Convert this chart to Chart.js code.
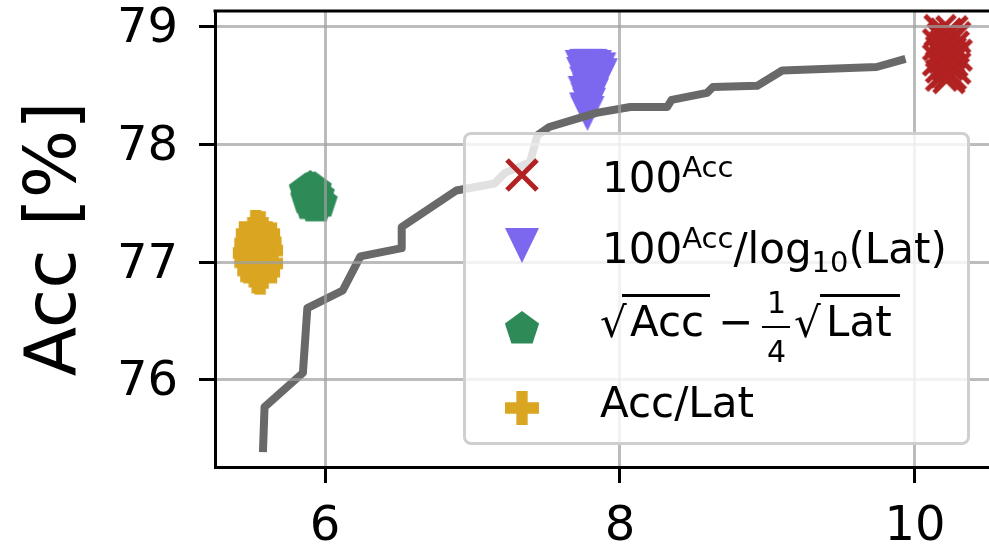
<!DOCTYPE html>
<html>
<head>
<meta charset="utf-8">
<script src="https://cdn.jsdelivr.net/npm/chart.js@4.4.1/dist/chart.umd.min.js"></script>
<style>
  body { margin: 0; background: #fff; }
  #wrap { position: relative; width: 989px; height: 544px; overflow: hidden; font-family: 'DejaVu Sans', sans-serif; color: #000; }
  #chart { position: absolute; left: 0; top: 0; }
  #legend { position: absolute; left: 463px; top: 132px; width: 507px; height: 313px; box-sizing: border-box;
            border: 3px solid #cfcfcf; border-radius: 8px; background: rgba(255, 255, 255, 0.8); }
  .lg { position: absolute; white-space: nowrap; font-size: 42px; line-height: 42px; }
  .sup { font-size: 29px; vertical-align: 15px; }
  .sub { font-size: 29px; vertical-align: -9px; }
  .rule { position: absolute; background: #000; }
  .mk { position: absolute; }
</style>
</head>
<body>
<div id="wrap">
  <canvas id="chart" width="989" height="544"></canvas>
  <div id="legend"></div>
  <div class="lg" style="left:602px; top:146px">100<span class="sup">Acc</span></div>
  <div class="lg" style="left:602px; top:217px">100<span class="sup">Acc</span>/log<span class="sub">10</span>(Lat)</div>
  <div class="lg" style="left:600px; top:302px">√</div>
  <div class="lg" style="left:630px; top:301px">Acc</div>
  <div class="rule" style="left:622px; top:294px; width:88px; height:3px"></div>
  <div class="lg" style="left:718px; top:301px">−</div>
  <div class="lg" style="left:767px; top:288px; font-size:30px; line-height:30px">1</div>
  <div class="rule" style="left:762px; top:326px; width:28px; height:2px"></div>
  <div class="lg" style="left:767px; top:337px; font-size:30px; line-height:30px">4</div>
  <div class="lg" style="left:794px; top:302px">√</div>
  <div class="lg" style="left:826px; top:301px">Lat</div>
  <div class="rule" style="left:820px; top:294px; width:80px; height:3px"></div>
  <div class="lg" style="left:600px; top:382px">Acc/Lat</div>
</div>
<script>
// Pareto front (latency vs accuracy)
const frontLat = [5.58, 5.59, 5.85, 5.88, 6.12, 6.24, 6.52, 6.52, 6.89, 7.15, 7.22, 7.39, 7.44, 7.52, 7.84, 8.07, 8.32, 8.35, 8.59, 8.63, 8.93, 9.10, 9.74, 9.91];
const frontAcc = [75.42, 75.77, 76.06, 76.61, 76.76, 77.05, 77.12, 77.30, 77.61, 77.67, 77.76, 77.85, 78.08, 78.15, 78.27, 78.32, 78.32, 78.38, 78.44, 78.49, 78.50, 78.63, 78.66, 78.72];

// 100^Acc
const powLat = [10.17, 10.25, 10.21, 10.19, 10.27, 10.23, 10.16, 10.21, 10.26, 10.18, 10.24, 10.28, 10.20, 10.16, 10.25, 10.22, 10.18, 10.27, 10.21, 10.24, 10.18, 10.23, 10.20, 10.23];
const powAcc = [78.97, 78.96, 78.94, 78.90, 78.91, 78.88, 78.85, 78.84, 78.83, 78.79, 78.78, 78.76, 78.74, 78.72, 78.71, 78.68, 78.66, 78.65, 78.62, 78.60, 78.59, 78.57, 78.80, 78.74];

// 100^Acc / log10(Lat)
const logLat = [7.74, 7.77, 7.80, 7.83, 7.86, 7.87, 7.85, 7.82, 7.78, 7.75, 7.80, 7.77, 7.83, 7.79, 7.76, 7.81, 7.78, 7.79, 7.77, 7.78];
const logAcc = [78.66, 78.67, 78.67, 78.66, 78.64, 78.59, 78.55, 78.60, 78.61, 78.60, 78.55, 78.52, 78.50, 78.46, 78.44, 78.42, 78.38, 78.34, 78.30, 78.27];

// sqrt(Acc) - 1/4 sqrt(Lat)
const sqrtLat = [5.87, 5.90, 5.93, 5.95, 5.97, 5.94, 5.90, 5.88, 5.92];
const sqrtAcc = [77.62, 77.64, 77.63, 77.58, 77.52, 77.48, 77.50, 77.55, 77.56];

// Acc / Lat
const ratioLat = [5.53, 5.56, 5.51, 5.58, 5.54, 5.50, 5.59, 5.55, 5.60, 5.49, 5.53, 5.57, 5.50, 5.60, 5.55, 5.52, 5.58, 5.54, 5.56];
const ratioAcc = [77.30, 77.29, 77.24, 77.24, 77.20, 77.16, 77.17, 77.12, 77.10, 77.08, 77.05, 77.03, 77.00, 76.99, 76.96, 76.93, 76.92, 76.88, 76.87];

const xTicksStep = 2;
const yTicksStep = 1;

const FONT = "'DejaVu Sans', sans-serif";
const toPoints = (xs, ys) => xs.map((x, i) => ({ x: x, y: ys[i] }));

// marker images, roughly matplotlib's x, v, p and P
function makeMarker(shape, color) {
    const s = 40, m = s / 2, h = 17;
    const c = document.createElement('canvas');
    c.width = s; c.height = s;
    const g = c.getContext('2d');
    g.fillStyle = color;
    g.strokeStyle = color;
    g.beginPath();
    if (shape === 'x') {
        g.lineWidth = 5;
        g.moveTo(m - 15, m - 15); g.lineTo(m + 15, m + 15);
        g.moveTo(m - 15, m + 15); g.lineTo(m + 15, m - 15);
        g.stroke();
        return c;
    }
    if (shape === 'v') {
        g.moveTo(m - h, m - h); g.lineTo(m + h, m - h); g.lineTo(m, m + h + 1);
    } else if (shape === 'p') {
        const r = 18;
        for (let i = 0; i < 5; i++) {
            const a = -Math.PI / 2 + i * 2 * Math.PI / 5;
            g.lineTo(m + r * Math.cos(a), m + 1 + r * Math.sin(a));
        }
    } else if (shape === 'P') {
        const a = h / 3;
        g.moveTo(m - a, m - h); g.lineTo(m + a, m - h); g.lineTo(m + a, m - a);
        g.lineTo(m + h, m - a); g.lineTo(m + h, m + a); g.lineTo(m + a, m + a);
        g.lineTo(m + a, m + h); g.lineTo(m - a, m + h); g.lineTo(m - a, m + a);
        g.lineTo(m - h, m + a); g.lineTo(m - h, m - a); g.lineTo(m - a, m - a);
    }
    g.closePath();
    g.fill();
    return c;
}

const series = [
    { lat: powLat, acc: powAcc, shape: 'x', color: '#b22222' },
    { lat: logLat, acc: logAcc, shape: 'v', color: '#7b68ee' },
    { lat: sqrtLat, acc: sqrtAcc, shape: 'p', color: '#2e8b57' },
    { lat: ratioLat, acc: ratioAcc, shape: 'P', color: '#daa520' }
];

// legend markers
const legendRows = [175, 245, 328, 408];
series.forEach((s, i) => {
    const mk = makeMarker(s.shape, s.color);
    mk.className = 'mk';
    mk.style.left = (522 - 20) + 'px';
    mk.style.top = (legendRows[i] - 20) + 'px';
    document.getElementById('wrap').appendChild(mk);
});

const datasets = [{
    label: 'front',
    data: toPoints(frontLat, frontAcc),
    showLine: true,
    borderColor: '#696969',
    borderWidth: 8,
    borderJoinStyle: 'round',
    borderCapStyle: 'square',
    pointRadius: 0,
    order: 0
}].concat(series.map(s => ({
    data: toPoints(s.lat, s.acc),
    pointStyle: makeMarker(s.shape, s.color),
    pointRadius: 17,
    order: 1
})));

// top spine
const topSpine = {
    id: 'topSpine',
    afterDraw(chart) {
        const { ctx, chartArea } = chart;
        ctx.save();
        ctx.strokeStyle = '#000';
        ctx.lineWidth = 3;
        ctx.beginPath();
        ctx.moveTo(chartArea.left - 1.5, chartArea.top);
        ctx.lineTo(chartArea.right, chartArea.top);
        ctx.stroke();
        ctx.restore();
    }
};

const gridOpts = {
    color: 'rgba(160, 160, 160, 0.7)',
    lineWidth: 3,
    z: 1,
    tickLength: 16,
    tickColor: '#000',
    tickWidth: 3
};

new Chart(document.getElementById('chart').getContext('2d'), {
    type: 'scatter',
    data: { datasets: datasets },
    options: {
        responsive: false,
        animation: false,
        events: [],
        layout: { autoPadding: false, padding: { top: 11, right: 0, bottom: 0, left: 0 } },
        plugins: { legend: { display: false }, tooltip: { enabled: false } },
        scales: {
            x: {
                type: 'linear',
                min: 5.254,
                max: 10.502,
                ticks: { stepSize: xTicksStep, includeBounds: false, color: '#000', padding: 16, font: { family: FONT, size: 48 } },
                grid: gridOpts,
                border: { color: '#000', width: 3, z: 1 },
                afterFit: s => { s.height = 77; s.paddingLeft = 0; s.paddingRight = 0; }
            },
            y: {
                type: 'linear',
                min: 75.26,
                max: 79.136,
                ticks: { stepSize: yTicksStep, includeBounds: false, color: '#000', padding: 21, labelOffset: 3, font: { family: FONT, size: 48 } },
                grid: gridOpts,
                border: { color: '#000', width: 3, z: 1 },
                title: { display: true, text: 'Acc [%]', color: '#000', padding: { top: 13, bottom: 0 }, font: { family: FONT, size: 72, weight: 'normal' } },
                afterFit: s => { s.width = 215; s.paddingTop = 0; s.paddingBottom = 0; }
            }
        }
    },
    plugins: [topSpine]
});
</script>
</body>
</html>
